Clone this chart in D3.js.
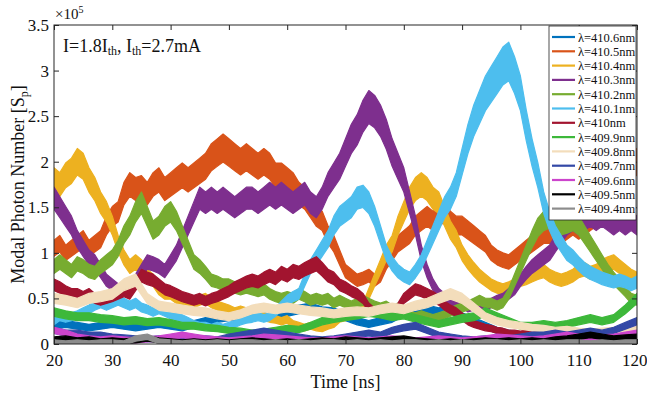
<!DOCTYPE html>
<html>
<head>
<meta charset="utf-8">
<script src="https://cdn.jsdelivr.net/npm/d3@7"></script>
<style>
  body { margin: 0; background: #fff; }
  text { font-family: "Liberation Serif", "Times New Roman", serif; fill: #111; }
</style>
</head>
<body>
<svg id="chart" width="647" height="393"></svg>
<script>
// time axis (ns): main series sampled every 1 ns, weak modes every 2 ns
const time1 = d3.range(20, 121, 1);
const time2 = d3.range(20, 121, 2);
const xTicks = [20, 30, 40, 50, 60, 70, 80, 90, 100, 110, 120];
const yTicks = [0, 0.5, 1, 1.5, 2, 2.5, 3, 3.5];

// photon numbers in units of 1e5
const s4106 = [0.2,0.22,0.2,0.18,0.2,0.22,0.2,0.18,0.2,0.22,0.2,0.18,0.22,0.25,0.28,0.3,0.3,0.32,0.35,0.33,0.35,0.38,0.4,0.36,0.35,0.3,0.25,0.22,0.25,0.28,0.35,0.4,0.38,0.35,0.38,0.3,0.25,0.2,0.15,0.12,0.1,0.08,0.08,0.07,0.08,0.07,0.06,0.07,0.08,0.1,0.12];
const s4105 = [1.05,1.1,1.0,1.05,1.1,1.15,1.05,1.1,1.15,1.3,1.4,1.45,1.65,1.75,1.7,1.72,1.65,1.75,1.8,1.7,1.75,1.8,1.85,1.8,1.85,1.9,1.95,2.05,2.1,2.15,2.1,2.05,2.0,2.05,2.0,1.95,2.0,1.95,1.85,1.85,1.8,1.75,1.65,1.6,1.5,1.4,1.35,1.2,1.1,0.95,0.8,0.75,0.7,0.72,0.75,0.7,0.75,0.9,1.0,1.1,1.15,1.2,1.3,1.35,1.4,1.35,1.4,1.45,1.35,1.3,1.3,1.25,1.2,1.15,1.1,1.0,0.95,0.92,0.9,0.95,1.0,1.05,1.1,1.15,1.2,1.2,1.25,1.2,1.25,1.3,1.25,1.3,1.35,1.4,1.5,1.6,1.75,1.85,1.9,1.95,2.0];
const s4104 = [1.8,1.75,1.85,1.9,2.0,1.95,1.8,1.7,1.55,1.45,1.3,1.1,0.95,0.85,0.9,0.85,0.75,0.7,0.6,0.55,0.55,0.5,0.48,0.45,0.45,0.48,0.5,0.45,0.42,0.4,0.38,0.35,0.37,0.35,0.37,0.33,0.3,0.28,0.27,0.25,0.27,0.22,0.2,0.18,0.2,0.18,0.17,0.2,0.22,0.28,0.3,0.32,0.35,0.4,0.55,0.7,0.85,1.0,1.1,1.3,1.45,1.6,1.7,1.75,1.7,1.6,1.55,1.4,1.25,1.15,1.0,0.9,0.82,0.75,0.7,0.65,0.62,0.6,0.62,0.65,0.7,0.72,0.75,0.78,0.8,0.75,0.72,0.7,0.72,0.75,0.8,0.82,0.78,0.8,0.85,0.88,0.9,0.85,0.8,0.75,0.72];
const s4103 = [1.6,1.5,1.4,1.3,1.15,1.05,0.95,0.9,0.8,0.7,0.65,0.6,0.6,0.62,0.7,0.8,0.9,0.88,0.85,0.8,0.9,1.0,1.15,1.3,1.45,1.6,1.55,1.6,1.55,1.6,1.55,1.5,1.55,1.6,1.6,1.55,1.6,1.65,1.6,1.65,1.6,1.55,1.6,1.65,1.55,1.5,1.6,1.75,1.85,1.95,2.1,2.25,2.35,2.5,2.6,2.55,2.45,2.3,2.1,1.95,1.8,1.55,1.3,1.0,0.8,0.65,0.55,0.5,0.45,0.42,0.45,0.4,0.42,0.45,0.42,0.45,0.48,0.5,0.55,0.6,0.7,0.78,0.85,0.9,0.95,1.0,1.1,1.2,1.3,1.35,1.3,1.35,1.4,1.35,1.4,1.35,1.3,1.35,1.3,1.35,1.3];
const s4102 = [0.85,0.9,0.85,0.8,0.88,0.85,0.8,0.78,0.85,0.9,0.95,1.05,1.2,1.3,1.45,1.55,1.4,1.25,1.3,1.4,1.45,1.35,1.2,1.05,0.9,0.85,0.78,0.7,0.68,0.65,0.65,0.62,0.6,0.62,0.6,0.58,0.6,0.55,0.52,0.5,0.52,0.5,0.55,0.52,0.48,0.5,0.48,0.5,0.45,0.48,0.45,0.42,0.45,0.48,0.45,0.42,0.4,0.42,0.38,0.4,0.35,0.32,0.3,0.32,0.3,0.28,0.3,0.32,0.35,0.38,0.4,0.42,0.45,0.48,0.45,0.45,0.42,0.45,0.55,0.7,0.85,1.0,1.15,1.28,1.35,1.38,1.35,1.3,1.32,1.35,1.3,1.2,1.1,1.0,0.9,0.8,0.72,0.65,0.58,0.5,0.48];
const s4101 = [0.25,0.3,0.28,0.3,0.32,0.35,0.38,0.42,0.45,0.42,0.45,0.48,0.45,0.42,0.45,0.4,0.38,0.35,0.38,0.35,0.32,0.3,0.28,0.25,0.22,0.2,0.2,0.18,0.2,0.18,0.2,0.22,0.25,0.27,0.28,0.3,0.28,0.3,0.35,0.42,0.48,0.52,0.55,0.7,0.85,0.95,1.05,1.15,1.3,1.4,1.45,1.5,1.6,1.62,1.55,1.4,1.2,1.0,0.88,0.8,0.75,0.72,0.8,0.9,1.05,1.2,1.35,1.5,1.6,1.75,2.0,2.25,2.45,2.6,2.75,2.85,2.95,3.05,3.1,2.95,2.75,2.4,2.1,1.85,1.55,1.35,1.2,1.1,1.0,0.95,0.88,0.82,0.78,0.75,0.72,0.7,0.68,0.7,0.68,0.65,0.68];
const s4100 = [0.65,0.62,0.58,0.55,0.55,0.52,0.55,0.5,0.48,0.5,0.52,0.55,0.58,0.55,0.65,0.75,0.72,0.7,0.65,0.6,0.58,0.55,0.52,0.5,0.48,0.5,0.47,0.5,0.52,0.55,0.58,0.62,0.65,0.68,0.7,0.68,0.72,0.75,0.72,0.78,0.75,0.8,0.78,0.82,0.85,0.88,0.82,0.75,0.72,0.65,0.62,0.58,0.55,0.5,0.4,0.35,0.33,0.35,0.32,0.4,0.5,0.55,0.6,0.58,0.55,0.52,0.48,0.42,0.38,0.35,0.3,0.25,0.22,0.2,0.18,0.17,0.15,0.14,0.12,0.12,0.11,0.12,0.1,0.11,0.1,0.1,0.11,0.1,0.1,0.11,0.1,0.11,0.12,0.11,0.12,0.12,0.12,0.13,0.14,0.15,0.15];
const s4099 = [0.35,0.32,0.3,0.3,0.28,0.27,0.25,0.26,0.24,0.25,0.23,0.2,0.2,0.18,0.17,0.15,0.14,0.12,0.13,0.15,0.17,0.16,0.2,0.25,0.28,0.3,0.32,0.35,0.33,0.3,0.32,0.28,0.25,0.22,0.25,0.28,0.3,0.35,0.3,0.25,0.2,0.2,0.22,0.2,0.22,0.25,0.28,0.25,0.28,0.38,0.5];
const s4098 = [0.5,0.48,0.45,0.5,0.52,0.55,0.65,0.7,0.5,0.42,0.4,0.38,0.36,0.35,0.32,0.3,0.33,0.38,0.4,0.38,0.4,0.38,0.36,0.35,0.33,0.35,0.36,0.35,0.38,0.4,0.38,0.42,0.45,0.5,0.55,0.5,0.4,0.3,0.25,0.22,0.2,0.18,0.17,0.15,0.16,0.14,0.13,0.14,0.15,0.16,0.15];
const s4097 = [0.15,0.12,0.12,0.1,0.1,0.08,0.07,0.06,0.05,0.06,0.05,0.04,0.05,0.06,0.05,0.08,0.1,0.12,0.14,0.12,0.1,0.08,0.06,0.05,0.06,0.08,0.1,0.12,0.1,0.15,0.18,0.2,0.15,0.1,0.08,0.06,0.05,0.06,0.05,0.06,0.08,0.1,0.1,0.12,0.1,0.12,0.14,0.12,0.15,0.2,0.25];
const s4096 = [0.15,0.12,0.08,0.06,0.05,0.06,0.05,0.04,0.05,0.06,0.08,0.1,0.08,0.06,0.05,0.04,0.05,0.06,0.08,0.07,0.06,0.05,0.04,0.04,0.05,0.06,0.05,0.04,0.05,0.06,0.05,0.04,0.05,0.06,0.05,0.04,0.05,0.06,0.08,0.07,0.06,0.05,0.06,0.08,0.1,0.08,0.06,0.07,0.08,0.1,0.12];
const s4095 = [0.05,0.06,0.04,0.05,0.03,0.04,0.03,0.04,0.06,0.04,0.03,0.02,0.03,0.02,0.03,0.02,0.03,0.04,0.03,0.02,0.03,0.02,0.03,0.04,0.03,0.05,0.04,0.03,0.04,0.05,0.06,0.04,0.03,0.02,0.03,0.02,0.03,0.04,0.03,0.04,0.03,0.04,0.03,0.05,0.06,0.08,0.1,0.08,0.06,0.07,0.08];
const s4094 = [0.02,0.01,0.02,0.01,0.02,0.02,0.01,0.06,0.08,0.03,0.02,0.01,0.02,0.01,0.02,0.01,0.02,0.02,0.01,0.02,0.01,0.02,0.01,0.02,0.02,0.01,0.02,0.01,0.02,0.01,0.02,0.02,0.01,0.02,0.01,0.02,0.01,0.02,0.02,0.01,0.02,0.01,0.02,0.01,0.02,0.02,0.01,0.02,0.01,0.02,0.02];

const labels = ["λ=410.6nm","λ=410.5nm","λ=410.4nm","λ=410.3nm","λ=410.2nm","λ=410.1nm","λ=410nm",
                "λ=409.9nm","λ=409.8nm","λ=409.7nm","λ=409.6nm","λ=409.5nm","λ=409.4nm"];
const colors = ["#0072BD","#D95319","#EDB120","#7E2F8E","#77AC30","#4DBEEE","#A2142F",
                "#3DB83A","#F3DDBB","#3348A6","#CC44CC","#000000","#8C8C8C"];

const series = [
  [time2, s4106], [time1, s4105], [time1, s4104], [time1, s4103], [time1, s4102],
  [time1, s4101], [time1, s4100], [time2, s4099], [time2, s4098], [time2, s4097],
  [time2, s4096], [time2, s4095], [time2, s4094]
].map(([ts, vs], i) => ({
  label: labels[i], color: colors[i],
  points: ts.map((t, j) => ({ t, v: vs[j] }))
}));

const L = 54, R = 637, T = 25, B = 344;
const x = d3.scaleLinear().domain([20, 120]).range([L, R]);
const y = d3.scaleLinear().domain([0, 3.5]).range([B, T]);

const svg = d3.select("#chart");

svg.append("clipPath").attr("id", "plot-clip")
  .append("rect").attr("x", L).attr("y", T).attr("width", R - L).attr("height", B - T);

// the traces are noisy, so each one is drawn as a band whose width grows with the level
const spread = v => 0.025 + 0.06 * v;
const band = d3.area()
  .x(d => x(d.t))
  .y0(d => y(d.v - spread(d.v)))
  .y1(d => y(d.v + spread(d.v)));

const traces = svg.append("g").attr("clip-path", "url(#plot-clip)");
traces.selectAll("path")
  .data(series)
  .join("path")
  .attr("d", d => band(d.points))
  .attr("fill", d => d.color)
  .attr("stroke", d => d.color)
  .attr("stroke-width", 1.2)
  .attr("stroke-linejoin", "round");

// axes, ticks pointing inwards on all four sides
const axisColor = "#262626";
function styleAxis(g) {
  g.select(".domain").remove();
  g.selectAll(".tick line").attr("stroke", axisColor);
  g.selectAll(".tick text").attr("font-size", 17).attr("fill", "#111")
    .attr("font-family", "Liberation Serif, Times New Roman, serif");
}

svg.append("g").attr("transform", `translate(0,${B})`)
  .call(d3.axisBottom(x).tickValues(xTicks).tickSize(-5).tickPadding(10).tickFormat(d => d))
  .call(styleAxis);
svg.append("g").attr("transform", `translate(0,${T})`)
  .call(d3.axisTop(x).tickValues(xTicks).tickSize(-5).tickFormat(""))
  .call(styleAxis);
svg.append("g").attr("transform", `translate(${L},0)`)
  .call(d3.axisLeft(y).tickValues(yTicks).tickSize(-5).tickPadding(5).tickFormat(d => String(d)))
  .call(styleAxis);
svg.append("g").attr("transform", `translate(${R},0)`)
  .call(d3.axisRight(y).tickValues(yTicks).tickSize(-5).tickFormat(""))
  .call(styleAxis);

// last x label sits against the window edge, keep it inside
svg.selectAll(".tick text").filter(d => d === 120).attr("text-anchor", "end").attr("dx", 10);

svg.append("rect")
  .attr("x", L).attr("y", T).attr("width", R - L).attr("height", B - T)
  .attr("fill", "none").attr("stroke", axisColor).attr("stroke-width", 1);

// exponent above the y axis
const expo = svg.append("text").attr("x", L + 1).attr("y", 19).attr("font-size", 15);
expo.append("tspan").text("×10");
expo.append("tspan").attr("font-size", 10).attr("dy", -6).text("5");

// axis titles
svg.append("text")
  .attr("x", (L + R) / 2).attr("y", 388)
  .attr("text-anchor", "middle").attr("font-size", 18)
  .text("Time [ns]");

const yTitle = svg.append("text")
  .attr("transform", `translate(24,${(T + B) / 2}) rotate(-90)`)
  .attr("text-anchor", "middle").attr("font-size", 18);
yTitle.append("tspan").text("Modal Photon Number [S");
yTitle.append("tspan").attr("font-size", 12).attr("dy", 4).text("p");
yTitle.append("tspan").attr("dy", -4).text("]");

// operating point note
const note = svg.append("text").attr("x", 63).attr("y", 52).attr("font-size", 18);
note.append("tspan").text("I=1.8I");
note.append("tspan").attr("font-size", 12).attr("dy", 3).text("th");
note.append("tspan").attr("dy", -3).text(", I");
note.append("tspan").attr("font-size", 12).attr("dy", 3).text("th");
note.append("tspan").attr("dy", -3).text("=2.7mA");

// legend
const legX = 549, legY = 26, legW = 87, legH = 194, rowH = 14.3;
const legend = svg.append("g");
legend.append("rect")
  .attr("x", legX).attr("y", legY).attr("width", legW).attr("height", legH)
  .attr("fill", "#fff").attr("stroke", axisColor).attr("stroke-width", 0.8);

const rows = legend.selectAll("g.row")
  .data(series)
  .join("g")
  .attr("class", "row")
  .attr("transform", (d, i) => `translate(${legX},${legY + 11 + i * rowH})`);
rows.append("line")
  .attr("x1", 3).attr("x2", 26).attr("y1", 0).attr("y2", 0)
  .attr("stroke", d => d.color).attr("stroke-width", 2.2);
rows.append("text")
  .attr("x", 29).attr("y", 4.5).attr("font-size", 12.5)
  .text(d => d.label);
</script>
</body>
</html>
